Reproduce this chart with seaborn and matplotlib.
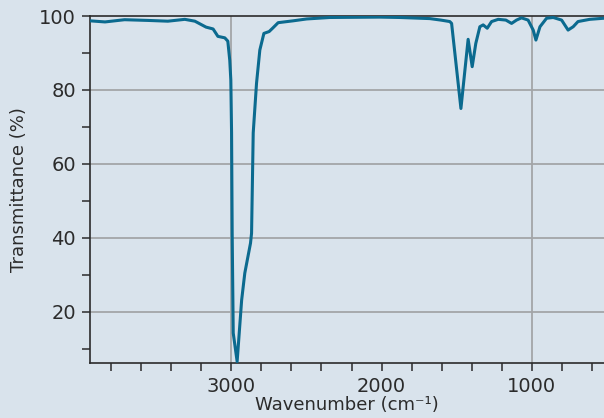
import pandas as pd
import matplotlib.pyplot as plt
import seaborn as sns
from matplotlib.ticker import MultipleLocator, FixedLocator

# IR spectrum
wavenumber = [3941, 3840, 3710, 3550, 3422, 3309, 3242, 3168, 3121, 3089,
              3043, 3023, 3010, 3003, 2998, 2994, 2987, 2961, 2931, 2910,
              2872, 2865, 2854, 2832, 2810, 2783, 2748, 2725, 2688, 2588,
              2499, 2344, 2011, 1878, 1679, 1606, 1546, 1534, 1472, 1424,
              1397, 1373, 1346, 1324, 1297, 1268, 1224, 1173, 1135, 1102,
              1069, 1025, 991, 973, 946, 902, 858, 802, 759, 725, 693, 615, 520]
transmittance = [98.7, 98.4, 99.0, 98.8, 98.6, 99.1, 98.6, 97.0, 96.5, 94.5,
                 94.1, 93.2, 88.0, 82.7, 68.4, 41.3, 14.3, 6.6, 23.2, 30.5,
                 38.6, 41.3, 68.4, 81.8, 90.8, 95.3, 95.8, 96.7, 98.2, 98.7,
                 99.2, 99.6, 99.7, 99.6, 99.3, 98.9, 98.5, 98.0, 75.0, 93.7,
                 86.3, 92.6, 97.1, 97.6, 96.7, 98.5, 99.1, 98.9, 98.0, 98.9,
                 99.5, 98.9, 96.2, 93.5, 97.1, 99.4, 99.6, 98.9, 96.2, 97.1,
                 98.5, 99.1, 99.4]

x_labels = [3000, 2000, 1000]
y_labels = [20, 40, 60, 80, 100]

BG = "#d9e3ec"
LINE = "#0b6a8f"
GRID = "#a3a5a8"
INK = "#2b2b2b"

sns.set_theme(style="white", rc={"axes.facecolor": BG, "figure.facecolor": BG})
plt.rcParams['font.family'] = ['DejaVu Sans']

df = pd.DataFrame({'Wavenumber': wavenumber, 'Transmittance': transmittance})

fig = plt.figure(figsize=(6.04, 4.18), dpi=100)
ax = fig.add_axes([0.149, 0.1316, 0.851, 0.8301])

# gridlines first so the spectrum sits on top
for v in [80, 60, 40, 20]:
    ax.axhline(v, color=GRID, lw=1.3, zorder=1)
for v in [3000, 1000]:
    ax.axvline(v, color=GRID, lw=1.3, zorder=1)

sns.lineplot(data=df, x='Wavenumber', y='Transmittance', color=LINE, lw=2.2, ax=ax, zorder=3)

ax.set_xlim(3940, 520)
ax.set_ylim(6.2, 100)

ax.xaxis.set_major_locator(FixedLocator(x_labels))
ax.xaxis.set_minor_locator(MultipleLocator(200))
ax.yaxis.set_major_locator(FixedLocator(y_labels))
ax.yaxis.set_minor_locator(MultipleLocator(10))

ax.tick_params(axis='both', which='both', direction='out', length=6, width=1.1,
               color=INK, labelcolor=INK, labelsize=14, pad=4, left=True, bottom=True)

for side in ['left', 'bottom', 'top']:
    ax.spines[side].set_color(INK)
    ax.spines[side].set_linewidth(1.2)
ax.spines['right'].set_visible(False)

ax.set_xlabel('Wavenumber (cm⁻¹)', fontsize=13, color=INK, labelpad=0)
ax.set_ylabel('Transmittance (%)', fontsize=13, color=INK, labelpad=8)

plt.savefig('out.png', dpi=100, facecolor=BG)
